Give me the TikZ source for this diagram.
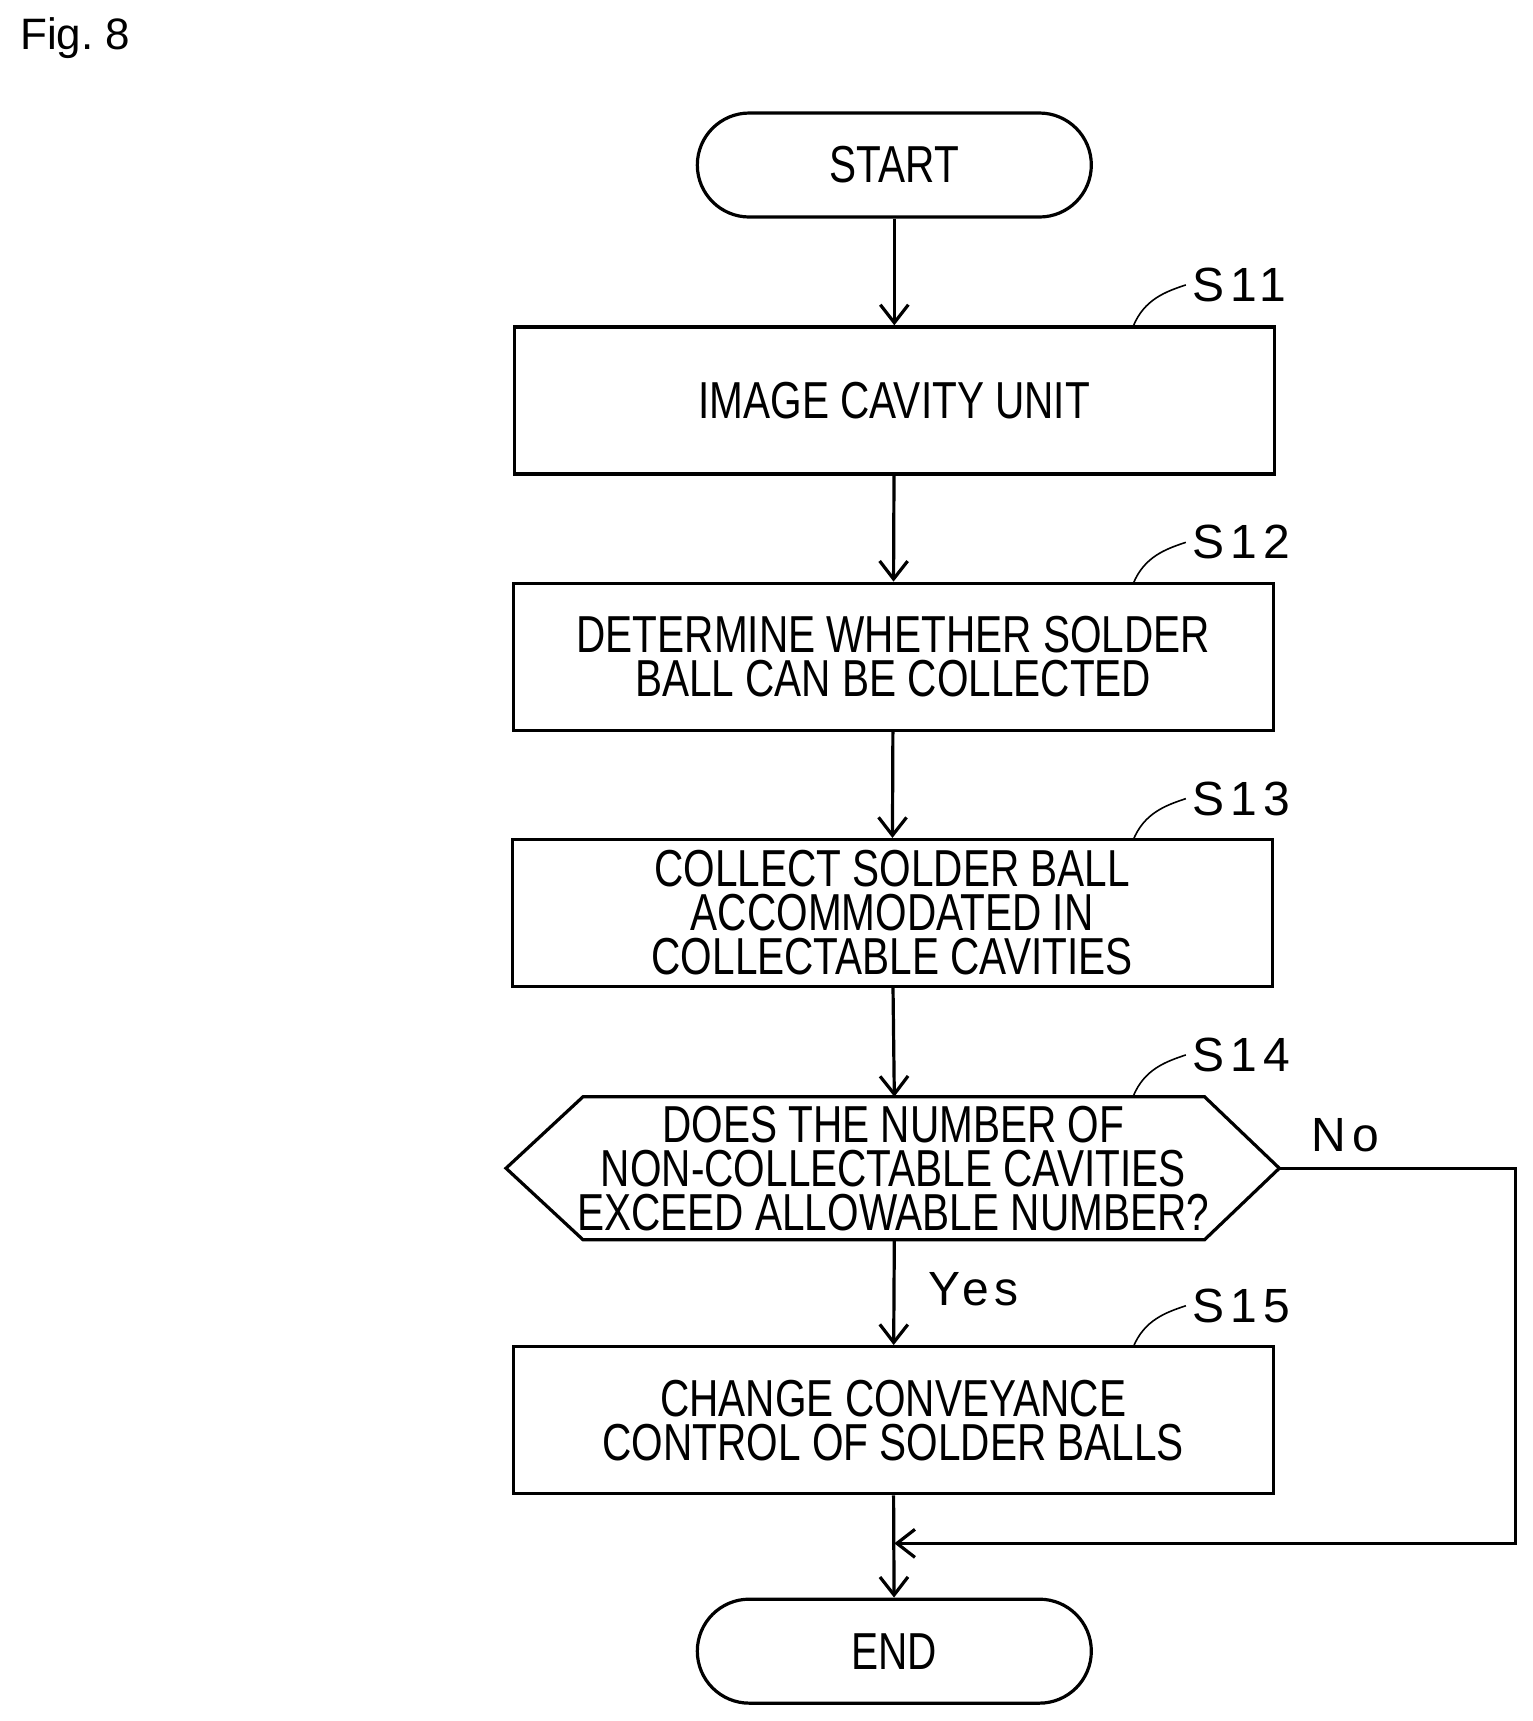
\documentclass[tikz,border=0pt]{standalone}
\usetikzlibrary{arrows.meta}
\usepackage{fontspec}
\setmainfont{Liberation Sans}
\newfontfamily\cond[FakeStretch=0.78]{Liberation Sans}
\newfontfamily\spaced[LetterSpace=12]{Liberation Sans}
\begin{document}
\begin{tikzpicture}[x=0.55pt,y=-0.55pt,
  box/.style={draw,line width=1.6pt,minimum width=380pt,minimum height=73.5pt,font=\cond\fontsize{26}{22}\selectfont,align=center,inner sep=0pt},
  term/.style={draw,line width=1.6pt,rounded corners=26pt,minimum width=197pt,minimum height=52pt,font=\cond\fontsize{26}{22}\selectfont},
  arr/.style={line width=1.6pt,->,>={Straight Barb[length=9pt,width=14pt]}},
  lbl/.style={font=\spaced\fontsize{24}{24}\selectfont,anchor=west},
  lead/.style={line width=0.8pt}]
\useasboundingbox (0,0) rectangle (1392.7,1564.5);
\node[anchor=west,font=\fontsize{22}{22}\selectfont] (fig) at (12,35) {Fig.\ 8};
\node[term] (start) at (813,150) {START};
\node[box] (s11) at (813,364) {IMAGE CAVITY UNIT};
\node[box] (s12) at (812,597) {DETERMINE WHETHER SOLDER\\BALL CAN BE COLLECTED};
\node[box] (s13) at (811,830) {COLLECT SOLDER BALL\\ACCOMMODATED IN\\COLLECTABLE CAVITIES};
\draw[line width=1.6pt] (460,1062) -- (530,997) -- (1095,997) -- (1163,1062) -- (1095,1127) -- (530,1127) -- cycle;
\node[font=\cond\fontsize{26}{22}\selectfont,align=center] (s14) at (812,1062) {DOES THE NUMBER OF\\NON-COLLECTABLE CAVITIES\\EXCEED ALLOWABLE NUMBER?};
\coordinate (dr) at (1163,1062);
\coordinate (dt) at (813,997);
\coordinate (db) at (813,1127);
\node[box] (s15) at (812,1291) {CHANGE CONVEYANCE\\CONTROL OF SOLDER BALLS};
\node[term] (end) at (813,1501) {END};
\foreach \a/\b in {start/s11,s11/s12,s12/s13} \draw[arr] (\a) -- (\b);
\draw[arr] (s13) -- (dt);
\draw[arr] (db) -- (s15);
\draw[arr] (s15) -- (end);
\coordinate (c1) at (1378,1062);
\coordinate (c2) at (1378,1403);
\coordinate (c3) at (813,1403);
\draw[arr] (dr) -- (c1) -- (c2) -- (c3);
\node[lbl] (no) at (1186,1032) {No};
\node[lbl] (yes) at (838,1172) {Yes};
\foreach \n/\y/\t in {a/297/S11,b/531/S12,c/764/S13,d/997/S14,e/1225/S15}{
  \node[lbl] (L\n) at (1078,\y-38) {\t};
  \draw[lead] (1030,\y) .. controls (1040,\y-25) and (1060,\y-32) .. (L\n.west);
}
\end{tikzpicture}
\end{document}
